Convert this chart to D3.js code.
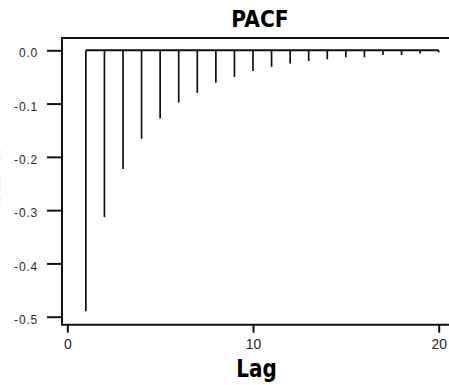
<!DOCTYPE html>
<html>
<head>
<meta charset="utf-8">
<script src="https://cdn.jsdelivr.net/npm/d3@7"></script>
<style>
  body { margin: 0; background: #fff; }
  svg { display: block; }
  .narrow { font-family: "DejaVu Sans", sans-serif; font-weight: bold; }
</style>
</head>
<body>
<div id="chart-area"></div>
<script>
const canvas_width = 449;
const canvas_height = 385;

// data
const lags = [1, 2, 3, 4, 5, 6, 7, 8, 9, 10, 11, 12, 13, 14, 15, 16, 17, 18, 19, 20];
const pacf = [-0.490, -0.313, -0.223, -0.166, -0.128, -0.098, -0.080, -0.061, -0.050, -0.039,
              -0.031, -0.025, -0.020, -0.017, -0.013, -0.013, -0.009, -0.009, -0.006, -0.004];
const y_ticks = [0.0, -0.1, -0.2, -0.3, -0.4, -0.5];
const x_ticks = [0, 10, 20];
const title = 'PACF';
const x_axis_label = 'Lag';
const y_axis_label = 'Partial ACF';

const frame = { left: 62, top: 38, bottom: 324.7 };

let svg = d3.select('#chart-area').append('svg')
    .attr('width', canvas_width)
    .attr('height', canvas_height);

let x = d3.scaleLinear().domain([0, 20]).range([67.3, 438.7]);
let y = d3.scaleLinear().domain([0, -0.5]).range([50.3, 316.7]);

// frame: top, left, bottom (right side runs off the picture)
svg.append('path')
    .attr('d', `M${canvas_width + 5},${frame.top}H${frame.left}V${frame.bottom}H${canvas_width + 5}`)
    .attr('fill', 'none')
    .attr('stroke', '#111')
    .attr('stroke-width', 2);

// y axis
let leftAxis = d3.axisLeft(y)
    .tickValues(y_ticks)
    .tickSize(15)
    .tickPadding(9)
    .tickFormat((d) => d3.format('.1f')(d).replace('\u2212', '-'));

let gy = svg.append('g')
    .attr('transform', `translate(${frame.left}, 0)`)
    .call(leftAxis);
gy.select('.domain').remove();
gy.selectAll('line').attr('stroke', '#111').attr('stroke-width', 2);
gy.selectAll('text')
    .attr('font-family', 'Liberation Sans, Arial, sans-serif')
    .attr('font-size', '12px')
    .attr('letter-spacing', '0.8px')
    .attr('fill', '#2a2a2a')
    .attr('dy', '0.55em');

// x axis
let bottomAxis = d3.axisBottom(x)
    .tickValues(x_ticks)
    .tickSize(8)
    .tickPadding(6)
    .tickFormat(d3.format('d'));

let gx = svg.append('g')
    .attr('transform', `translate(0, ${frame.bottom})`)
    .call(bottomAxis);
gx.select('.domain').remove();
gx.selectAll('line').attr('stroke', '#111').attr('stroke-width', 2);
gx.selectAll('text')
    .attr('font-family', 'Liberation Sans, Arial, sans-serif')
    .attr('font-size', '14px')
    .attr('fill', '#2a2a2a');

// zero line
svg.append('line')
    .attr('x1', x(lags[0]))
    .attr('x2', x(lags[lags.length - 1]))
    .attr('y1', y(0))
    .attr('y2', y(0))
    .attr('stroke', '#111')
    .attr('stroke-width', 2);

// spikes
svg.selectAll('line.spike').data(lags)
    .enter().append('line')
    .attr('class', 'spike')
    .attr('x1', (d) => x(d))
    .attr('x2', (d) => x(d))
    .attr('y1', y(0))
    .attr('y2', (d, i) => y(pacf[i]))
    .attr('stroke', '#111')
    .attr('stroke-width', 1.7);

// title (squeezed horizontally to look condensed)
svg.append('text')
    .attr('class', 'narrow')
    .attr('transform', 'translate(260, 27) scale(0.88, 1)')
    .attr('text-anchor', 'middle')
    .attr('font-size', '23px')
    .text(title);

// x axis label
svg.append('text')
    .attr('class', 'narrow')
    .attr('transform', 'translate(256.5, 377) scale(0.8, 1)')
    .attr('text-anchor', 'middle')
    .attr('font-size', '25px')
    .text(x_axis_label);

// y axis label, mostly cut off at the left edge as in the reference
svg.append('text')
    .attr('transform', 'translate(0, 180) rotate(-90)')
    .attr('text-anchor', 'middle')
    .attr('font-family', 'Liberation Sans, Arial, sans-serif')
    .attr('font-size', '14px')
    .attr('fill', '#777')
    .text(y_axis_label);
</script>
</body>
</html>
